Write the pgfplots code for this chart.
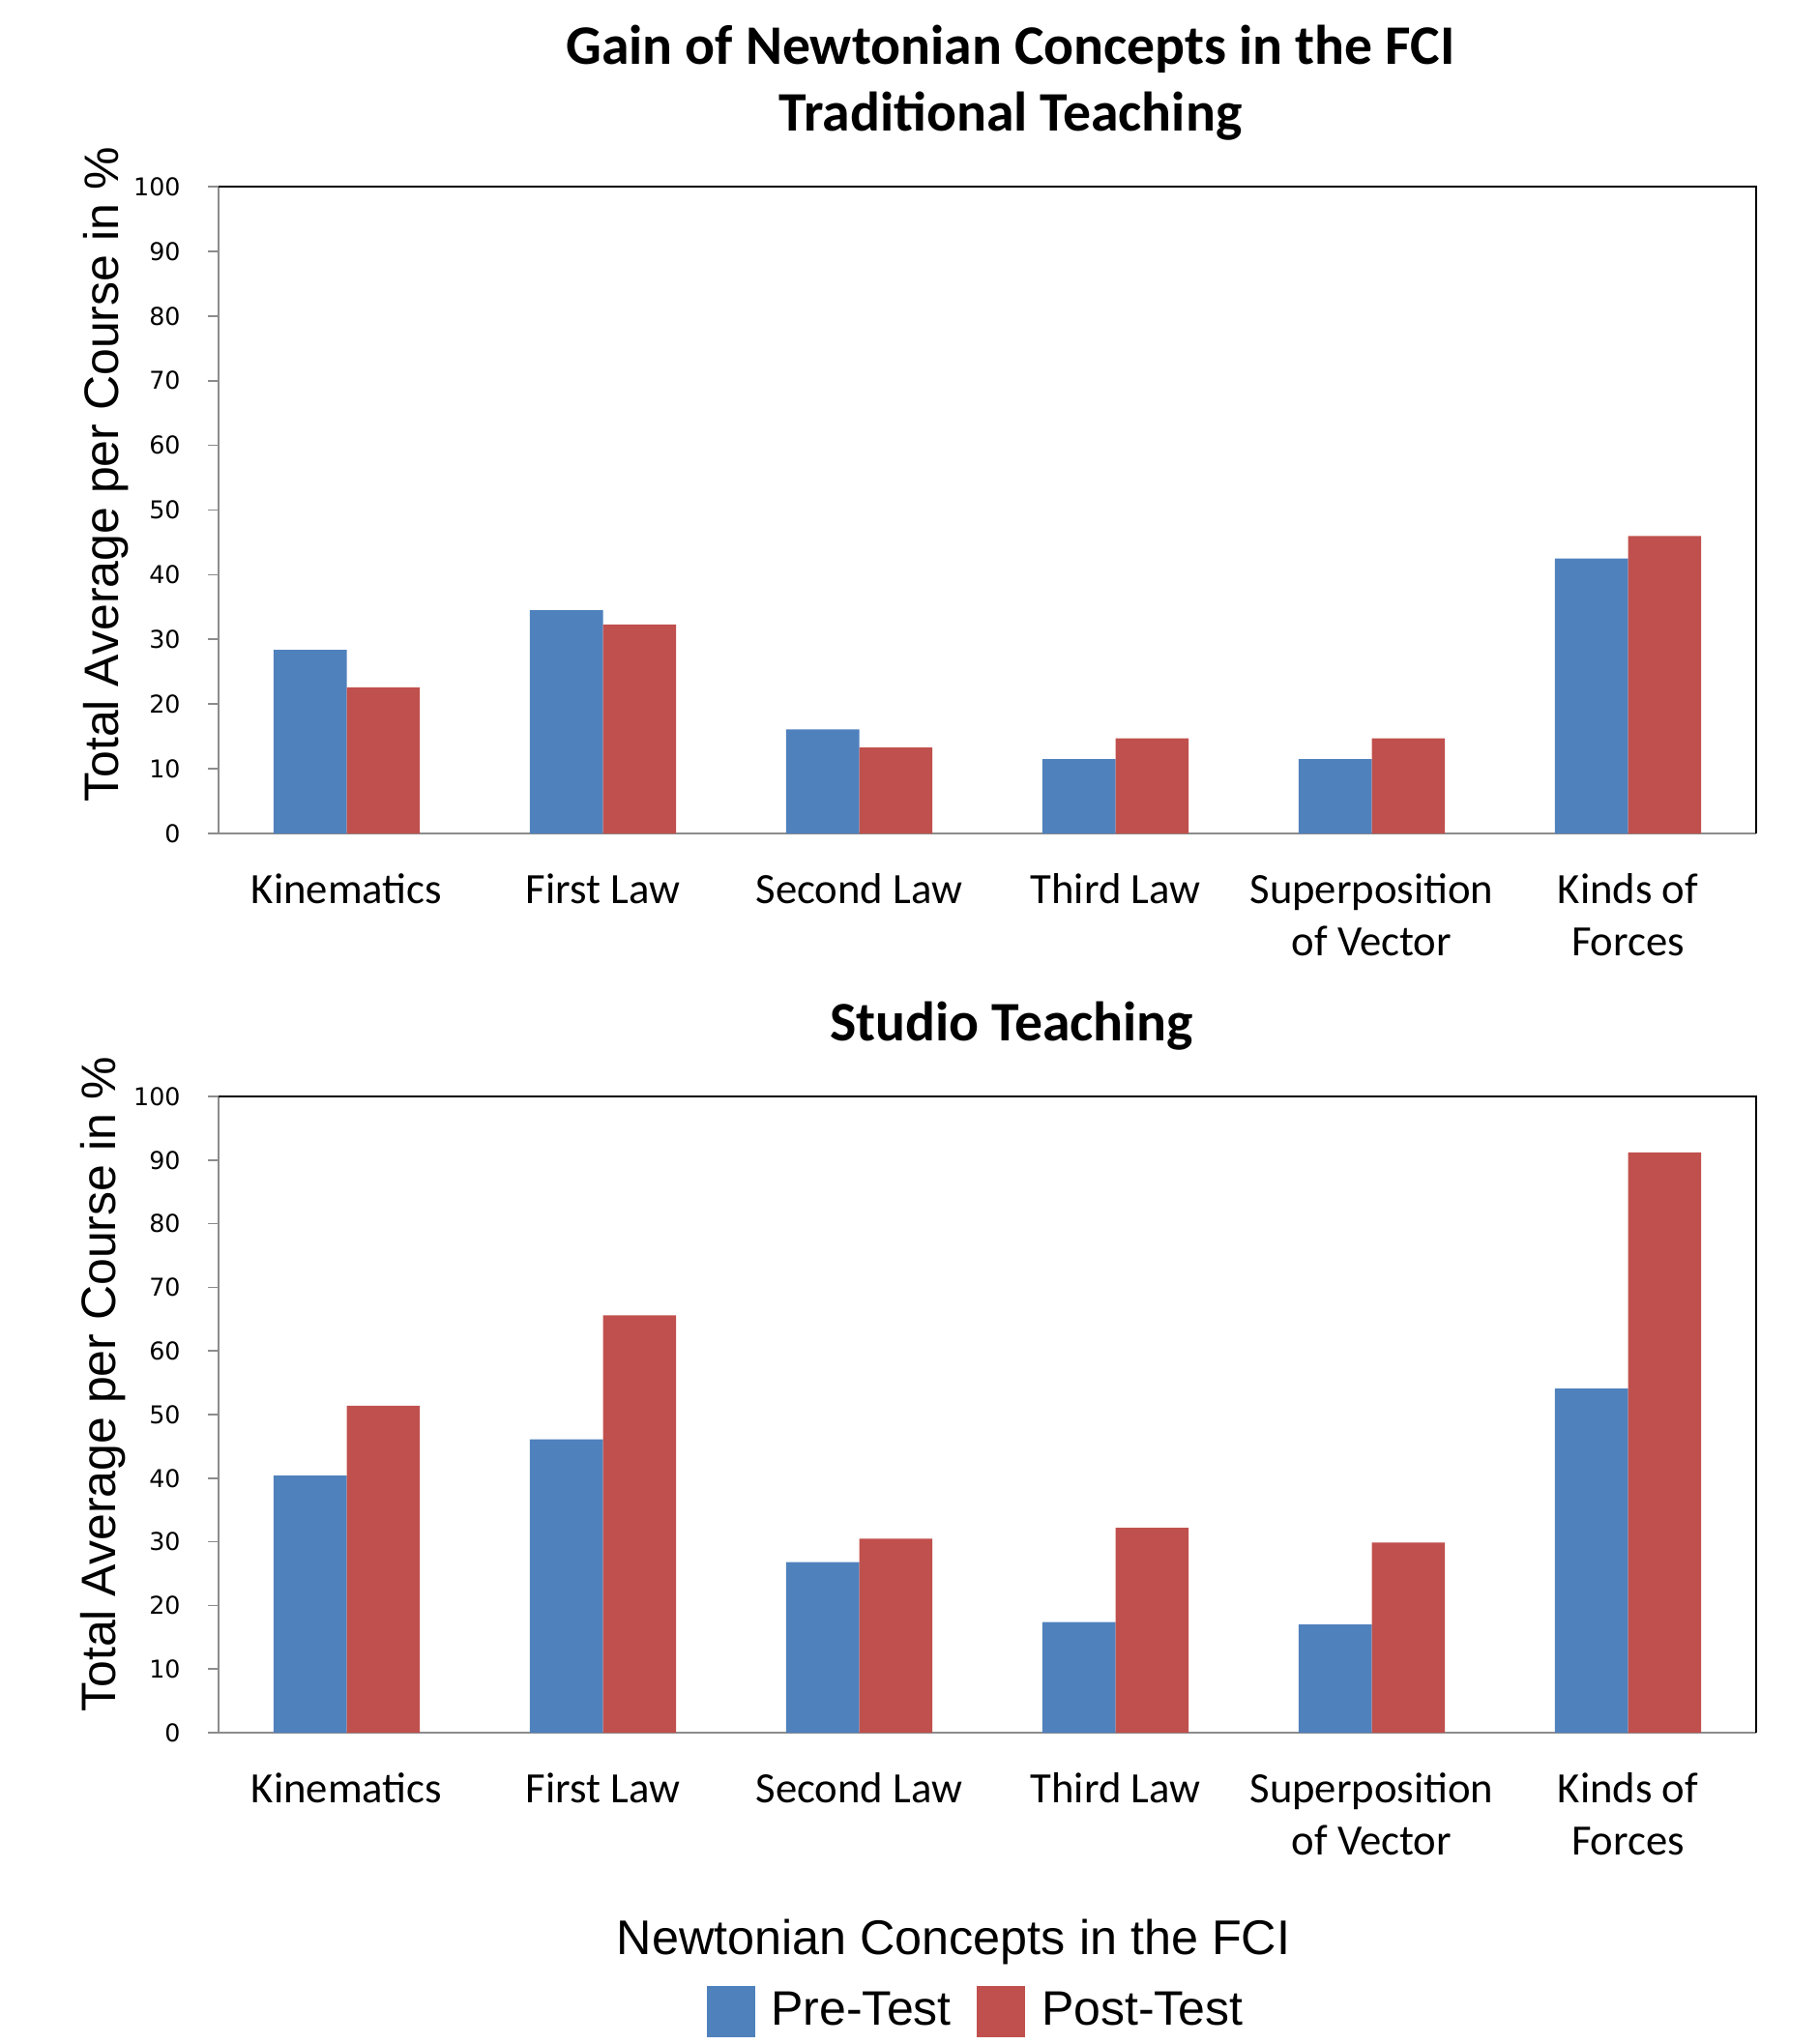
\documentclass[border=0pt]{standalone}
\usepackage{pgfplots}
\pgfplotsset{compat=1.18}
\usepackage{fontspec}
\setmainfont{Liberation Sans}
\newfontfamily\carlito{Carlito}
\newfontfamily\dejavu{DejaVu Sans}
\definecolor{preblue}{HTML}{4F81BD}
\definecolor{postred}{HTML}{C0504D}
\definecolor{axgray}{HTML}{8C8C8C}

\pgfplotsset{
  fcibars/.style={
    scale only axis,
    width=477pt,
    anchor=north west,
    ybar=0pt,
    bar width=0.285,
    xmin=-0.5, xmax=5.5,
    ymin=0, ymax=100,
    ytick={0,10,...,100},
    xtick={0,1,2,3,4,5},
    xticklabels={Kinematics, First Law, Second Law, Third Law, {Superposition\\of Vector}, {Kinds of\\Forces}},
    xticklabel style={font=\carlito\fontsize{13.4}{16.2}\selectfont, align=center, anchor=north, yshift=-5.6pt},
    yticklabel style={font=\dejavu\fontsize{7.6}{9}\selectfont, anchor=east, xshift=-5pt},
    /pgf/number format/assume math mode=true,
    axis x line*=bottom,
    axis y line*=left,
    axis line style={draw=axgray, line width=0.6pt, -},
    x axis line style={draw=axgray},
    tick align=outside,
    xtick style={draw=none},
    ytick style={draw=axgray, line width=0.5pt},
    major tick length=3.3pt,
    after end axis/.code={
      \draw[black, line width=0.7pt] (rel axis cs:0,1) -- (rel axis cs:1,1) -- (rel axis cs:1,0);
    },
  },
}

\begin{document}
\begin{tikzpicture}
\useasboundingbox (0,0) rectangle (564.3pt,-634.2pt);

% Top axis: Traditional Teaching
\begin{axis}[fcibars, at={(67.8pt,-57.9pt)}, height=200.7pt]
\addplot[fill=preblue, draw=none, bar shift=-0.1425] coordinates {(0,28.4) (1,34.5) (2,16.1) (3,11.5) (4,11.5) (5,42.5)};
\addplot[fill=postred, draw=none, bar shift=0.1425] coordinates {(0,22.6) (1,32.3) (2,13.3) (3,14.7) (4,14.7) (5,46.0)};
\end{axis}

% Bottom axis: Studio Teaching
\begin{axis}[fcibars, at={(67.8pt,-340.2pt)}, height=197.4pt,
  legend columns=2,
  legend style={at={(rel axis cs:0.494,-0.438)}, anchor=center, draw=none, fill=none,
    font=\fontsize{15}{18}\selectfont, column sep=3pt,
    /tikz/every even column/.append style={column sep=6pt}},
  legend image code/.code={\fill[#1] (0pt,-8pt) rectangle (15pt,8pt);},
]
\addplot[fill=preblue, draw=none, bar shift=-0.1425] coordinates {(0,40.4) (1,46.1) (2,26.8) (3,17.4) (4,17.0) (5,54.1)};
\addplot[fill=postred, draw=none, bar shift=0.1425] coordinates {(0,51.4) (1,65.6) (2,30.5) (3,32.2) (4,29.9) (5,91.2)};
\legend{Pre-Test, Post-Test}
\end{axis}

% Titles
\node[font=\carlito\bfseries\fontsize{17.3}{21}\selectfont, anchor=center] at (313.5pt,-15.3pt) {Gain of Newtonian Concepts in the FCI};
\node[font=\carlito\bfseries\fontsize{17.3}{21}\selectfont, anchor=center] at (313.5pt,-36pt) {Traditional Teaching};
\node[font=\carlito\bfseries\fontsize{17.3}{21}\selectfont, anchor=center] at (313.8pt,-318.3pt) {Studio Teaching};

% Y labels
\node[rotate=90, font=\fontsize{15}{18}\selectfont, anchor=center] at (33pt,-147.3pt) {Total Average per Course in \%};
\node[rotate=90, font=\fontsize{15}{18}\selectfont, anchor=center] at (32.1pt,-429.6pt) {Total Average per Course in \%};

% X label
\node[font=\fontsize{15.1}{18}\selectfont, anchor=center] at (295.8pt,-602.4pt) {Newtonian Concepts in the FCI};
\end{tikzpicture}
\end{document}
